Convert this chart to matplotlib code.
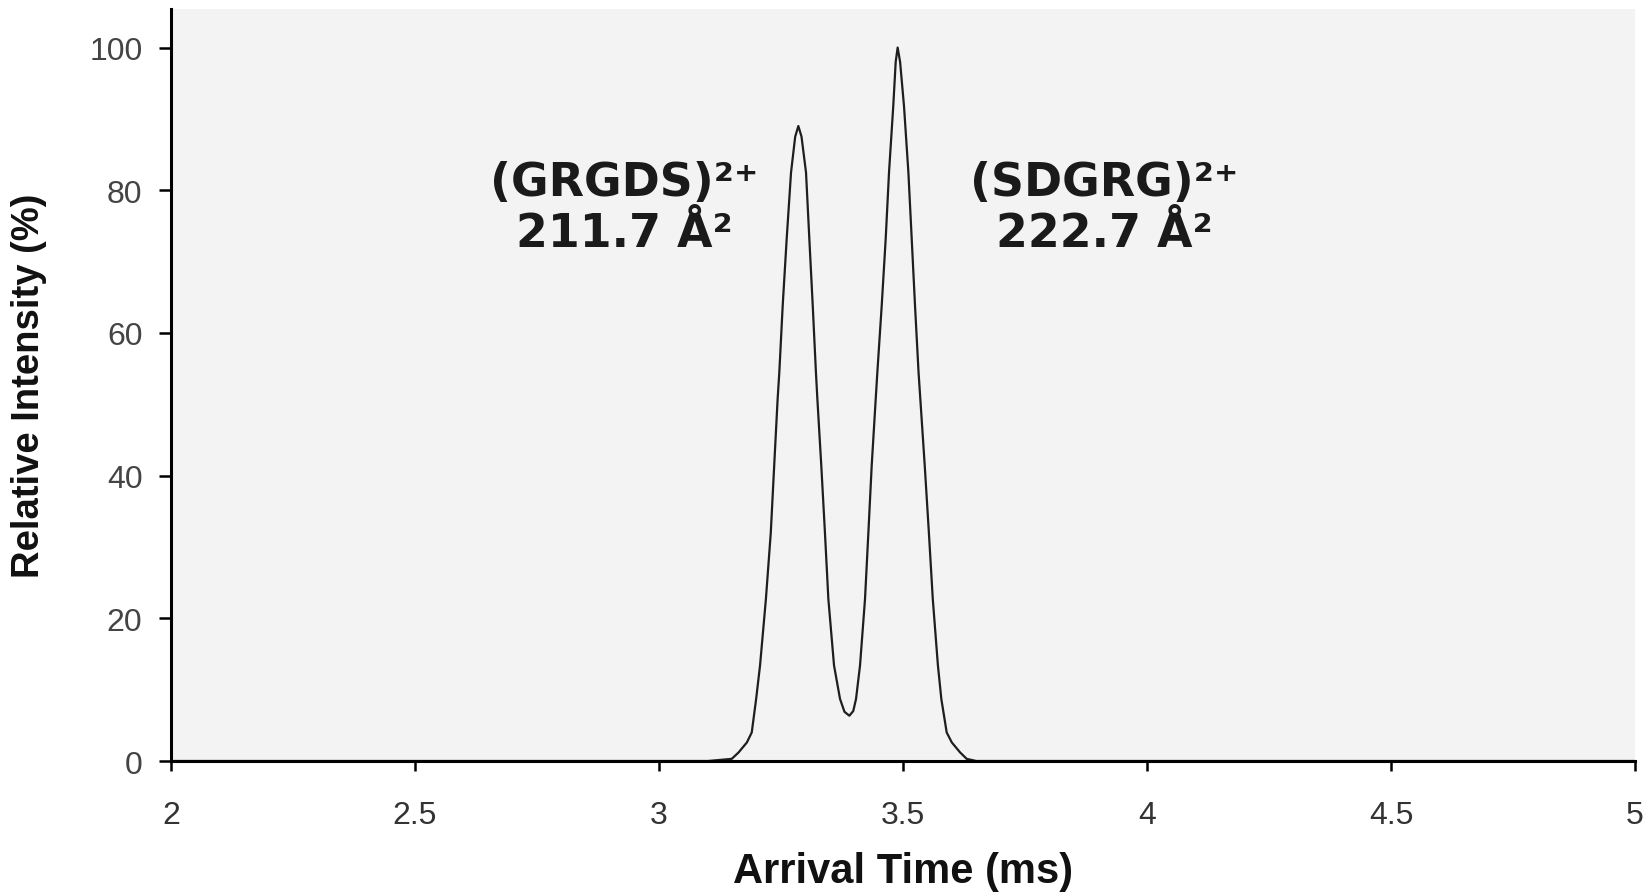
import matplotlib
matplotlib.use("Agg")
import matplotlib.pyplot as plt

# Arrival time (ms) and relative intensity (%)
arrival_time = [2.0, 3.10, 3.149, 3.163, 3.180, 3.190, 3.199, 3.207, 3.219, 3.229,
                3.236, 3.243, 3.2465, 3.2534, 3.2616, 3.2705, 3.279, 3.2855, 3.292,
                3.3012, 3.308, 3.315, 3.3215, 3.3245, 3.3325, 3.3400, 3.347, 3.3586,
                3.3709, 3.380, 3.390, 3.398, 3.4037, 3.4119, 3.4221, 3.429, 3.4358,
                3.444, 3.4474, 3.4563, 3.4645, 3.4713, 3.480, 3.485, 3.489, 3.494,
                3.502, 3.511, 3.5178, 3.5246, 3.5318, 3.5355, 3.5445, 3.5530, 3.561,
                3.5715, 3.5785, 3.5895, 3.600, 3.617, 3.6305, 3.65, 5.0]
intensity = [0, 0, 0.3, 1.2, 2.6, 4.0, 8.7, 13.4, 22.7, 32.0,
             41.4, 50.7, 54.5, 63.8, 73.2, 82.5, 87.5, 89.0, 87.5,
             82.5, 73.2, 63.8, 54.5, 50.7, 41.4, 32.0, 22.7, 13.4,
             8.7, 6.9, 6.35, 7.0, 8.7, 13.4, 22.7, 32.0, 41.4,
             50.7, 54.5, 63.8, 73.2, 82.5, 91.8, 98.0, 100.0, 98.0,
             91.8, 82.5, 73.2, 63.8, 54.5, 50.7, 41.4, 32.0, 22.7,
             13.4, 8.7, 4.0, 2.6, 1.2, 0.3, 0, 0]

x_ticks = [2, 2.5, 3, 3.5, 4, 4.5, 5]
x_tick_labels = ["2", "2.5", "3", "3.5", "4", "4.5", "5"]
y_ticks = [0, 20, 40, 60, 80, 100]
y_tick_labels = ["0", "20", "40", "60", "80", "100"]

annotations = [
    ("(GRGDS)\u00b2\u207a", "211.7 \u00c5\u00b2", 2.928),
    ("(SDGRG)\u00b2\u207a", "222.7 \u00c5\u00b2", 3.912),
]

fig = plt.figure(figsize=(16.48, 8.95), dpi=100)
fig.patch.set_facecolor("white")
ax = fig.add_axes([0.1038, 0.1486, 0.8883, 0.8402])
ax.set_facecolor("#f3f3f3")

ax.plot(arrival_time, intensity, color="#1e1e1e", lw=1.6, zorder=2)

ax.set_xlim(2, 5)
ax.set_ylim(0, 105.4)

for s in ["top", "right"]:
    ax.spines[s].set_visible(False)
for s in ["left", "bottom"]:
    ax.spines[s].set_linewidth(2.2)
    ax.spines[s].set_color("black")
    ax.spines[s].set_zorder(3)

ax.set_xticks(x_ticks)
ax.set_xticklabels(x_tick_labels, fontfamily="Liberation Sans", fontsize=23, color="#333333")
ax.set_yticks(y_ticks)
ax.set_yticklabels(y_tick_labels, fontfamily="Liberation Sans", fontsize=23, color="#444444")
ax.tick_params(axis="x", direction="out", length=7, width=1.8, pad=21)
ax.tick_params(axis="y", direction="out", length=8.6, width=1.8, pad=12)

ax.set_xlabel("Arrival Time (ms)", fontfamily="Liberation Sans", fontweight="bold",
              fontsize=30, color="#111111")
ax.xaxis.set_label_coords(0.5, -0.12, transform=ax.transAxes)
ax.xaxis.label.set_va("top")
ax.set_ylabel("Relative Intensity (%)", fontfamily="Liberation Sans", fontweight="bold",
              fontsize=27.5, color="#111111")
ax.yaxis.set_label_coords(-0.097, 0.5, transform=ax.transAxes)
ax.yaxis.label.set_va("center")

for line1, line2, xc in annotations:
    ax.text(xc, 79.4, line1, ha="center", va="baseline", fontfamily="DejaVu Sans",
            fontweight="bold", fontsize=33, color="#1a1a1a", zorder=4)
    ax.text(xc, 72.2, line2, ha="center", va="baseline", fontfamily="DejaVu Sans",
            fontweight="bold", fontsize=33, color="#1a1a1a", zorder=4)

fig.savefig("out.png", dpi=100, facecolor="white")
